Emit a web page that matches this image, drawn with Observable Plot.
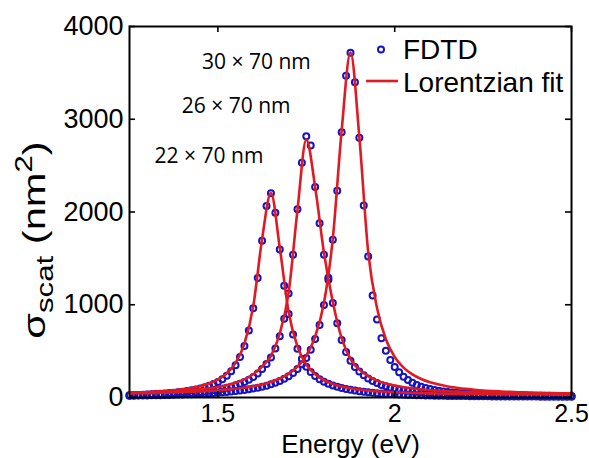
<!DOCTYPE html>
<html>
<head>
<meta charset="utf-8">
<script src="https://cdn.jsdelivr.net/npm/d3@7"></script>
<script src="https://cdn.jsdelivr.net/npm/@observablehq/plot@0.6"></script>
<style>
  html, body { margin: 0; padding: 0; background: #ffffff; }
  #chart svg { display: block; }
</style>
</head>
<body>
<div id="chart"></div>
<script>
// Photon energy of each FDTD sample (eV)
const energy = [
  1.25, 1.2625, 1.275, 1.2875, 1.3, 1.3125, 1.325, 1.3375, 1.35, 1.3625,
  1.375, 1.3875, 1.4, 1.4125, 1.425, 1.4375, 1.45, 1.4625, 1.475, 1.4875,
  1.5, 1.5125, 1.525, 1.5375, 1.55, 1.5625, 1.575, 1.5875, 1.6, 1.6125,
  1.625, 1.6375, 1.65, 1.6625, 1.675, 1.6875, 1.7, 1.7125, 1.725, 1.7375,
  1.75, 1.7625, 1.775, 1.7875, 1.8, 1.8125, 1.825, 1.8375, 1.85, 1.8625,
  1.875, 1.8875, 1.9, 1.9125, 1.925, 1.9375, 1.95, 1.9625, 1.975, 1.9875,
  2.0, 2.0125, 2.025, 2.0375, 2.05, 2.0625, 2.075, 2.0875, 2.1, 2.1125,
  2.125, 2.1375, 2.15, 2.1625, 2.175, 2.1875, 2.2, 2.2125, 2.225, 2.2375,
  2.25, 2.2625, 2.275, 2.2875, 2.3, 2.3125, 2.325, 2.3375, 2.35, 2.3625,
  2.375, 2.3875, 2.4, 2.4125, 2.425, 2.4375, 2.45, 2.4625, 2.475, 2.4875,
  2.5
];

// FDTD scattering cross sections (nm^2)
const sigma22 = [
  25, 27, 28, 30, 33, 35, 38, 41, 44, 48,
  52, 57, 63, 70, 78, 87, 97, 110, 126, 145,
  168, 198, 235, 284, 349, 436, 556, 723, 962, 1289,
  1690, 2064, 2203, 1991, 1595, 1206, 900, 680, 525, 414,
  332, 275, 232, 198, 170, 148, 130, 115, 102, 92,
  83, 75, 68, 62, 56, 51, 47, 43, 40, 37,
  34, 32, 30, 28, 26, 24, 23, 22, 21, 20,
  19, 18, 17, 16.5, 16, 15.5, 15, 14.5, 14, 13.5,
  13, 12.5, 12, 12, 11.5, 11, 11, 10.5, 10, 10,
  10, 9.5, 9.5, 9, 9, 9, 8.5, 8.5, 8, 8,
  8
];
const sigma26 = [
  22, 23, 25, 26, 27, 29, 31, 33, 35, 37,
  39, 42, 45, 48, 52, 56, 60, 66, 72, 79,
  86, 95, 105, 117, 131, 148, 168, 192, 222, 259,
  306, 360, 430, 527, 660, 850, 1120, 1540, 2030, 2530,
  2817, 2717, 2270, 1880, 1540, 1270, 1020, 800, 620, 490,
  395, 330, 280, 240, 206, 178, 155, 136, 120, 107,
  96, 87, 79, 72, 66, 61, 56, 52, 48, 45,
  42, 39, 37, 35, 33, 31, 29, 28, 27, 25,
  24, 23, 22, 21.5, 21, 20.5, 20, 19.5, 19, 18.5,
  18, 17.5, 17, 16.5, 16, 15.5, 15, 15, 14.5, 14,
  14
];
const sigma30 = [
  19, 20, 20.5, 21, 22, 23, 24, 25.5, 27, 28,
  29.5, 31, 33, 34, 36, 38, 41, 43, 46, 49,
  52, 56, 60, 64, 69, 75, 81, 88, 96, 105,
  116, 128, 142, 159, 178, 201, 230, 264, 307, 359,
  427, 515, 630, 783, 996, 1291, 1700, 2230, 2860, 3470,
  3717, 3400, 2800, 2070, 1520, 1100, 840, 640, 505, 405,
  330, 272, 225, 188, 158, 135, 117, 103, 91, 81,
  73, 66, 60, 55, 51, 47, 44, 41, 38, 36,
  34, 32, 30, 29, 27, 26, 25, 24, 23, 22,
  21, 20, 19.5, 19, 18.5, 18, 17.5, 17, 16.5, 16,
  15.5
];

// Lorentzian fit curves, sampled every 0.025 eV
const fitEnergy = [
  1.25, 1.275, 1.3, 1.325, 1.35, 1.375, 1.4, 1.425, 1.45, 1.475,
  1.5, 1.525, 1.55, 1.575, 1.6, 1.625, 1.65, 1.675, 1.7, 1.725,
  1.75, 1.775, 1.8, 1.825, 1.85, 1.875, 1.9, 1.925, 1.95, 1.975,
  2.0, 2.025, 2.05, 2.075, 2.1, 2.125, 2.15, 2.175, 2.2, 2.225,
  2.25, 2.275, 2.3, 2.325, 2.35, 2.375, 2.4, 2.425, 2.45, 2.475,
  2.5
];
const fit22 = [
  50, 54, 58, 63, 69, 78, 88, 103, 122, 151,
  193, 260, 373, 580, 985, 1710, 2205, 1615, 922, 548,
  355, 250, 186, 146, 119, 100, 86, 76, 68, 62,
  57, 53, 50, 47, 45, 43, 41, 39, 38, 37,
  36, 35, 34, 34, 33, 33, 32, 32, 31, 31,
  30
];
const fit26 = [
  50, 53, 55, 59, 63, 67, 73, 80, 88, 100,
  114, 133, 159, 196, 250, 334, 450, 690, 1130, 2020,
  2780, 2270, 1560, 1030, 640, 415, 300, 230, 182, 150,
  128, 111, 98, 88, 79, 73, 67, 63, 59, 56,
  53, 51, 49, 47.5, 46, 44.5, 43, 42, 41, 40,
  39
];
const fit30 = [
  44, 46, 47, 49, 52, 55, 58, 61, 66, 71,
  77, 85, 94, 106, 121, 141, 167, 203, 255, 332,
  452, 655, 1021, 1715, 2880, 3720, 2810, 1570, 965, 628,
  437, 322, 249, 199, 164, 139, 119, 105, 93, 84,
  76, 70, 65, 61, 57, 54, 51.5, 49, 47, 45,
  44
];

// Rod sizes and where their names sit on the chart
const sizeNames = ["22 × 70 nm", "26 × 70 nm", "30 × 70 nm"];
const sizeLabelEnergy = [1.321, 1.398, 1.455];
const sizeLabelSigma = [2600, 3145, 3610];

const xTicks = [1.5, 2, 2.5];
const yTicks = [0, 1000, 2000, 3000, 4000];
const legendNames = ["FDTD", "Lorentzian fit"];

const dotColor = "#1414c4";
const lineColor = "#e01a22";

const W = 589, H = 458;
const M = {top: 26, right: 18, bottom: 61, left: 129};
const frameW = W - M.left - M.right;
const frameH = H - M.top - M.bottom;

const series = [
  {name: sizeNames[0], values: sigma22, fit: fit22},
  {name: sizeNames[1], values: sigma26, fit: fit26},
  {name: sizeNames[2], values: sigma30, fit: fit30}
];
const fdtd = series.flatMap(s => energy.map((e, i) => ({energy: e, sigma: s.values[i], size: s.name})));
const fits = series.flatMap(s => fitEnergy.map((e, i) => ({energy: e, sigma: s.fit[i], size: s.name})));
const sizeLabels = sizeNames.map((t, i) => ({text: t, energy: sizeLabelEnergy[i], sigma: sizeLabelSigma[i]}));

const plot = Plot.plot({
  width: W,
  height: H,
  marginTop: M.top,
  marginRight: M.right,
  marginBottom: M.bottom,
  marginLeft: M.left,
  style: {fontFamily: "'Liberation Sans', Arial, sans-serif", background: "#ffffff", color: "#000000"},
  x: {domain: [1.25, 2.5]},
  y: {domain: [0, 4000]},
  marks: [
    Plot.dot(fdtd, {x: "energy", y: "sigma", r: 3, stroke: dotColor, strokeWidth: 2, fill: "none"}),
    Plot.line(fits, {x: "energy", y: "sigma", z: "size", stroke: lineColor, strokeWidth: 2.6, curve: "monotone-x"}),
    Plot.text(sizeLabels, {x: "energy", y: "sigma", text: "text", textAnchor: "start", lineAnchor: "middle",
      fontFamily: "'Open Sans', sans-serif", fontSize: 21, fill: "#000000"}),
    Plot.frame({stroke: "#000000", strokeWidth: 2}),
    // inward tick marks on all four sides
    Plot.tickX(xTicks, {x: d => d, insetTop: frameH - 6, stroke: "#000000", strokeWidth: 1.6}),
    Plot.tickX(xTicks, {x: d => d, insetBottom: frameH - 6, stroke: "#000000", strokeWidth: 1.6}),
    Plot.tickY(yTicks, {y: d => d, insetRight: frameW - 6, stroke: "#000000", strokeWidth: 1.6}),
    Plot.tickY(yTicks, {y: d => d, insetLeft: frameW - 6, stroke: "#000000", strokeWidth: 1.6}),
    Plot.axisX({ticks: xTicks, tickSize: 0, tickPadding: 7, fontSize: 25, label: null, tickFormat: d => String(d)}),
    Plot.axisY({ticks: yTicks, tickSize: 0, tickPadding: 6, fontSize: 27, label: null, tickFormat: d => String(d)}),
    Plot.text(["Energy (eV)"], {text: d => d, frameAnchor: "bottom", dy: 47, lineAnchor: "middle", fontSize: 26, fill: "#000000"})
  ]
});

const svg = d3.select(plot);

// y-axis title with subscript and superscript, drawn a little tall
const ylab = svg.append("text")
  .attr("transform", "translate(45,240) rotate(-90) scale(1.3,1)")
  .attr("text-anchor", "middle")
  .attr("font-family", "'Liberation Sans', Arial, sans-serif")
  .attr("font-size", 32)
  .attr("fill", "#000000");
ylab.append("tspan").text("σ");
ylab.append("tspan").attr("font-size", 24).attr("dy", 8).text("scat");
ylab.append("tspan").attr("dy", -8).text(" (nm");
ylab.append("tspan").attr("font-size", 24).attr("dy", -13).text("2");
ylab.append("tspan").attr("dy", 13).text(")");

// legend
const legend = svg.append("g")
  .attr("font-family", "'Liberation Sans', Arial, sans-serif")
  .attr("font-size", 28)
  .attr("text-anchor", "start")
  .attr("fill", "#000000");
legend.append("circle").attr("cx", 381).attr("cy", 49.5).attr("r", 3)
  .attr("fill", "none").attr("stroke", dotColor).attr("stroke-width", 2);
legend.append("text").attr("x", 403).attr("y", 59).text(legendNames[0]);
legend.append("line").attr("x1", 366).attr("x2", 398).attr("y1", 81).attr("y2", 81)
  .attr("stroke", lineColor).attr("stroke-width", 2.6);
legend.append("text").attr("x", 403).attr("y", 92).text(legendNames[1]);

document.getElementById("chart").appendChild(plot);
</script>
</body>
</html>
